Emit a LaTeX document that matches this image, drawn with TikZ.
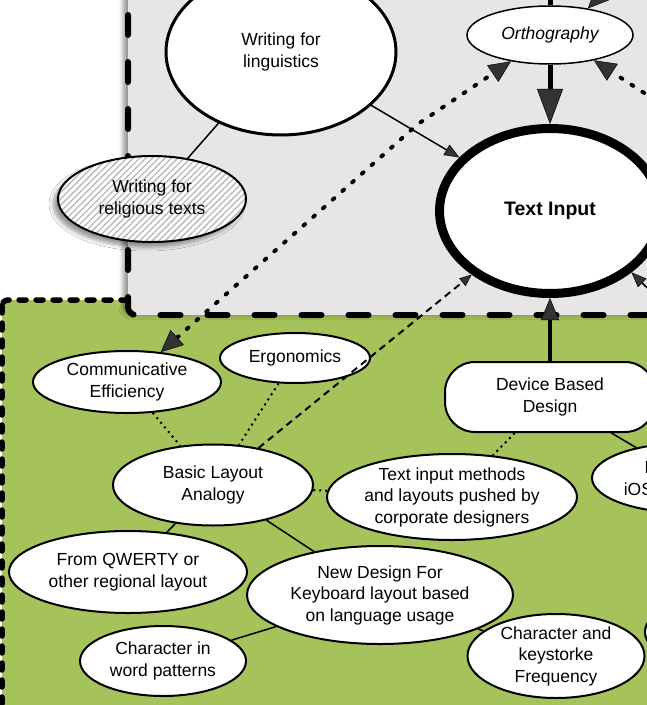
\documentclass[tikz,border=0pt]{standalone}
\usepackage{fontspec}
\setmainfont{Liberation Sans}
\usepackage{xcolor}
\usepackage{tikz}
\usetikzlibrary{arrows.meta, shapes.geometric, patterns.meta, shadows.blur}

\definecolor{zonegreen}{RGB}{166,194,90}
\definecolor{zonegray}{RGB}{230,230,230}
\newcommand{\diagfont}{\fontsize{17.5bp}{21.5bp}\selectfont}

\tikzset{
    bigtip/.tip={Triangle[length=22bp, width=20bp, line width=0.5bp]},
    smalltip/.tip={Triangle[length=15bp, width=12bp, line width=0.5bp]}
}

\begin{document}
\begin{tikzpicture}[x=1bp, y=-1bp,
    every node/.style={font=\diagfont},
    bubble/.style={ellipse, draw=black, line width=2bp, fill=white, align=center, inner sep=0pt, inner ysep=-2bp},
    hatched/.style={ellipse, draw=black, line width=2bp, align=center, inner sep=0pt,
        blur shadow={shadow xshift=-5bp, shadow yshift=-5bp, shadow blur radius=4bp},
        preaction={fill=white}, pattern={Lines[angle=45, distance=4.5bp, line width=1.3bp]}, pattern color=black!28},
    pill/.style={rectangle, rounded corners=30bp, draw=black, line width=2bp, fill=white, align=center, minimum width=210bp, minimum height=70bp},
    greenzone/.style={fill=zonegreen, draw=black, line width=5.5bp, dash pattern=on 7bp off 10bp, line cap=round, rounded corners=6bp},
    grayzone/.style={fill=zonegray, draw=black, line width=6bp, dash pattern=on 20bp off 27bp, line cap=round, rounded corners=8bp},
    link/.style={line width=1.5bp},
    dots/.style={line width=2bp, dash pattern=on 2bp off 4bp},
    dashline/.style={line width=2bp, dash pattern=on 7bp off 5bp, -{Triangle[length=12bp, width=10bp, line width=0.5bp]}},
    dotarrow/.style={line width=4bp, line cap=round, dash pattern=on 2bp off 11bp},
    fat/.style={line width=5bp, -{Triangle[length=35bp, width=26bp, line width=0.5bp]}}
]
\useasboundingbox (0,0) rectangle (647,705);
\clip (0,0) rectangle (647,705);

% zones
\fill[white] (0,0) rectangle (647,705);
\draw[greenzone] (2,300) rectangle (720,740);
\draw[grayzone, blur shadow={shadow xshift=-5bp, shadow yshift=0bp, shadow blur radius=4bp}] (128,-40) rectangle (720,315);

% upper zone
\node[bubble, line width=3bp, minimum width=230bp, minimum height=166bp] (ling) at (281,52) {Writing for\\linguistics};
\node[hatched, minimum width=188bp, minimum height=86bp] (relig) at (152,199) {Writing for\\religious texts};
\node[bubble, line width=1.5bp, minimum width=166bp, minimum height=58bp, font=\diagfont\itshape] (ortho) at (550,35) {Orthography};
\node[bubble, line width=9bp, minimum width=221bp, minimum height=165bp, font=\fontsize{19.5bp}{23bp}\selectfont\bfseries] (textin) at (550,211) {Text Input};

% lower zone
\node[bubble, minimum width=188bp, minimum height=62bp] (comm) at (127,382) {Communicative\\Efficiency};
\node[bubble, minimum width=150bp, minimum height=50bp] (ergo) at (295,358) {Ergonomics};
\node[pill] (device) at (550,397) {Device Based\\Design};
\node[bubble, minimum width=200bp, minimum height=81bp] (basic) at (213,485) {Basic Layout\\Analogy};
\node[bubble, minimum width=250bp, minimum height=86bp] (method) at (452,497) {Text input methods\\and layouts pushed by\\corporate designers};
\node[bubble, minimum width=192bp, minimum height=70bp] (lios) at (688,478) {Layouts for\\iOS and Android};
\node[bubble, minimum width=238bp, minimum height=82bp] (qwerty) at (128,572) {From QWERTY or\\other regional layout};
\node[bubble, minimum width=266bp, minimum height=98bp] (newdes) at (380,595) {New Design For\\Keyboard layout based\\on language usage};
\node[bubble, minimum width=166bp, minimum height=70bp] (charword) at (163,661) {Character in\\word patterns};
\node[bubble, minimum width=177bp, minimum height=84bp] (charkey) at (556,656) {Character and\\keystorke\\Frequency};
\node[bubble, minimum width=150bp, minimum height=70bp] (rightcut) at (720,632) {};

% connectors
\coordinate (kink) at (418,124);
\coordinate (orthotop) at (550,-40);
\coordinate (orthoin) at (625,-30);
\coordinate (orthose) at (655,100);
\coordinate (textinse) at (690,330);

\draw[link] (ling) -- (relig);
\draw[link, -smalltip] (ling) -- (textin);
\draw[line width=5bp] (ortho) -- (orthotop);
\draw[link, -bigtip] (orthoin) -- (ortho.35);
\draw[fat] (ortho) -- (textin);
\draw[dotarrow, -bigtip] (orthose) -- (ortho.-30);
\draw[link, -smalltip] (textinse) -- (textin.-37);
\draw[dotarrow, bigtip-bigtip] (comm) -- (kink) -- (ortho);
\draw[line width=4bp, -{Triangle[length=22bp, width=18bp, line width=0.5bp]}] (device) -- (textin);
\draw[dashline] (basic) -- (textin);
\draw[dots] (comm) -- (basic);
\draw[dots] (ergo) -- (basic);
\draw[dots] (basic) -- (method);
\draw[dots] (device) -- (method);
\draw[link] (device) -- (lios);
\draw[link] (basic) -- (qwerty);
\draw[link] (basic) -- (newdes);
\draw[link] (charword) -- (newdes);
\draw[link] (newdes) -- (charkey);
\end{tikzpicture}
\end{document}
